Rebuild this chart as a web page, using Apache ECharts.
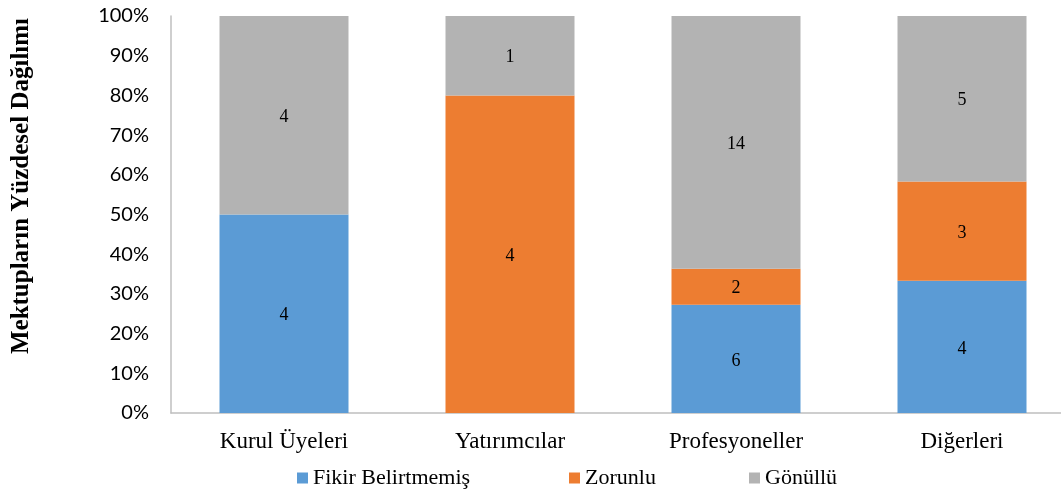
<!DOCTYPE html>
<html>
<head>
<meta charset="utf-8">
<script src="https://cdn.jsdelivr.net/npm/echarts@6/dist/echarts.min.js"></script>
<style>
  html, body { margin: 0; padding: 0; background: #fff; }
  #chart { width: 1061px; height: 492px; }
</style>
</head>
<body>
<div id="chart"></div>
<script>
// Letter counts per group and type
const categories = ['Kurul Üyeleri', 'Yatırımcılar', 'Profesyoneller', 'Diğerleri'];
const fikirBelirtmemis = [4, 0, 6, 4];
const zorunlu = [0, 4, 2, 3];
const gonullu = [4, 1, 14, 5];
const seriesNames = ['Fikir Belirtmemiş', 'Zorunlu', 'Gönüllü'];
const yTickLabels = ['0%', '10%', '20%', '30%', '40%', '50%', '60%', '70%', '80%', '90%', '100%'];

const counts = [fikirBelirtmemis, zorunlu, gonullu];
const totals = categories.map((_, i) => counts.reduce((s, arr) => s + arr[i], 0));
const colors = ['#5B9BD5', '#ED7D31', '#B3B3B3'];
const serif = '"Liberation Serif", "Times New Roman", serif';

const chart = echarts.init(document.getElementById('chart'));

const series = counts.map((arr, k) => ({
  name: seriesNames[k],
  type: 'bar',
  stack: 'total',
  barWidth: 129,
  itemStyle: { color: colors[k] },
  label: {
    show: true,
    position: 'inside',
    offset: [0, 2],
    color: '#000',
    fontFamily: serif,
    fontSize: 18,
    formatter: p => (arr[p.dataIndex] > 0 ? String(arr[p.dataIndex]) : '')
  },
  data: arr.map((v, i) => (v / totals[i]) * 100)
}));

// one legend block per series so each entry sits at its own position
const legendLefts = [292, 564, 744];
const legends = seriesNames.map((name, k) => ({
  data: [name],
  left: legendLefts[k],
  top: 462,
  itemWidth: 11,
  itemHeight: 11,
  itemGap: 0,
  icon: 'rect',
  textStyle: { fontFamily: serif, fontSize: 22, color: '#000' }
}));

chart.setOption({
  animation: false,
  textStyle: { fontFamily: serif },
  grid: { left: 171, top: 16, bottom: 79, width: 904, outerBoundsMode: 'none' },
  legend: legends,
  graphic: [{
    type: 'text',
    x: 22,
    y: 186,
    rotation: Math.PI / 2,
    style: {
      text: 'Mektupların Yüzdesel Dağılımı',
      font: 'bold 25px ' + serif,
      fill: '#000',
      align: 'center',
      verticalAlign: 'middle'
    }
  }],
  xAxis: {
    type: 'category',
    data: categories,
    axisLine: { lineStyle: { color: '#BFBFBF', width: 1.5 } },
    axisTick: { show: false },
    axisLabel: { color: '#000', fontFamily: serif, fontSize: 23, margin: 17 }
  },
  yAxis: {
    type: 'value',
    min: 0,
    max: 100,
    interval: 10,
    splitLine: { show: false },
    axisLine: { show: true, lineStyle: { color: '#BFBFBF', width: 1.5 } },
    axisTick: { show: false },
    axisLabel: {
      color: '#000',
      fontFamily: 'Lato, "Open Sans", sans-serif',
      fontSize: 20,
      margin: 22,
      formatter: v => yTickLabels[Math.round(v / 10)]
    }
  },
  series: series
});
</script>
</body>
</html>
